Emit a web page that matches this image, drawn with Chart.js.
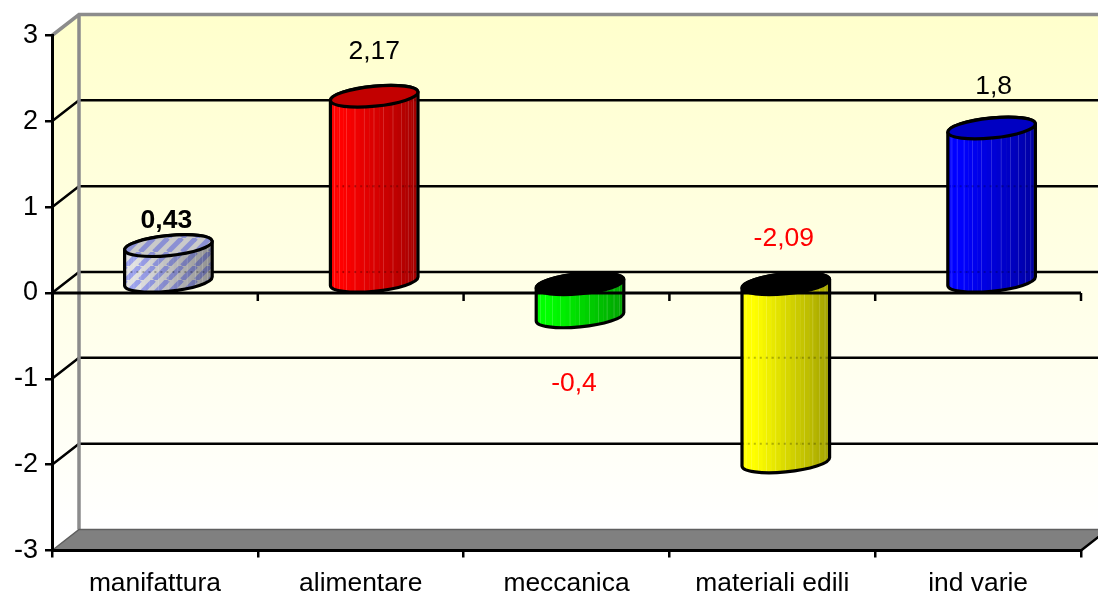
<!DOCTYPE html>
<html>
<head>
<meta charset="utf-8">
<style>
  html, body { margin: 0; padding: 0; background: #fff; }
  canvas { display: block; }
</style>
<script src="https://cdn.jsdelivr.net/npm/chart.js@4"></script>
</head>
<body>
<canvas id="chart" width="1098" height="592"></canvas>
<script>
const categories = ['manifattura', 'alimentare', 'meccanica', 'materiali edili', 'ind varie'];
const values = [0.43, 2.17, -0.4, -2.09, 1.8];
const barColors = ['#b4b8e8', '#ff0000', '#00ff00', '#ffff00', '#0000ff'];
const yTicks = [3, 2, 1, 0, -1, -2, -3];

// label placement, in px from the value end of each cylinder
const labelOffsets = [
  { dx: -2, dy: -25 }, { dx: 0, dy: -45 }, { dx: -6, dy: 67 }, { dx: -2, dy: -223 }, { dx: 2, dy: -41 }
];

// 3d box depth in px
const DX = 27, DY = -21;
const FONT = '"Liberation Sans", Arial, sans-serif';

function shade(hex, f) {
  const n = parseInt(hex.slice(1), 16);
  const c = [n >> 16, (n >> 8) & 255, n & 255].map(v => Math.round(v * f));
  return `rgb(${c[0]},${c[1]},${c[2]})`;
}

// diagonal stripes for the first bar
function hatch(ctx, f) {
  const p = document.createElement('canvas');
  p.width = p.height = 14;
  const c = p.getContext('2d');
  c.fillStyle = shade('#ffffff', f * 0.88);
  c.fillRect(0, 0, 14, 14);
  c.strokeStyle = shade('#9aa0ec', f);
  c.lineWidth = 5;
  for (let i = -14; i <= 28; i += 14) {
    c.beginPath();
    c.moveTo(i, 14);
    c.lineTo(i + 14, 0);
    c.stroke();
  }
  return ctx.createPattern(p, 'repeat');
}

const walls = {
  id: 'walls',
  beforeDraw(chart) {
    const { ctx, scales: { x, y } } = chart;
    const left = x.left, right = x.right;
    const top = y.getPixelForValue(3), bottom = y.getPixelForValue(-3);
    ctx.save();

    const g = ctx.createLinearGradient(0, top + DY, 0, bottom + DY);
    g.addColorStop(0, '#ffffcc');
    g.addColorStop(1, '#ffffff');
    ctx.fillStyle = g;
    ctx.fillRect(left + DX, top + DY, right - left, bottom - top);

    // side wall
    ctx.beginPath();
    ctx.moveTo(left, top);
    ctx.lineTo(left + DX, top + DY);
    ctx.lineTo(left + DX, bottom + DY);
    ctx.lineTo(left, bottom);
    ctx.closePath();
    ctx.fill();

    // floor
    ctx.beginPath();
    ctx.moveTo(left, bottom);
    ctx.lineTo(left + DX, bottom + DY);
    ctx.lineTo(right + DX, bottom + DY);
    ctx.lineTo(right, bottom);
    ctx.closePath();
    ctx.fillStyle = '#808080';
    ctx.fill();

    // grid lines
    ctx.strokeStyle = '#000';
    ctx.lineWidth = 2.5;
    yTicks.slice(1, -1).forEach(v => {
      const py = y.getPixelForValue(v);
      ctx.beginPath();
      ctx.moveTo(left, py);
      ctx.lineTo(left + DX, py + DY);
      ctx.lineTo(right + DX, py + DY);
      ctx.stroke();
    });

    // box edges
    ctx.strokeStyle = '#8c8c8c';
    ctx.lineWidth = 3.5;
    ctx.beginPath();
    ctx.moveTo(left, top);
    ctx.lineTo(left + DX, top + DY);
    ctx.lineTo(right + DX, top + DY);
    ctx.moveTo(left + DX, top + DY);
    ctx.lineTo(left + DX, bottom + DY);
    ctx.stroke();
    ctx.strokeStyle = '#5f5f5f';
    ctx.lineWidth = 1.5;
    ctx.beginPath();
    ctx.moveTo(left, bottom);
    ctx.lineTo(left + DX, bottom + DY);
    ctx.lineTo(right + DX, bottom + DY);
    ctx.stroke();
    ctx.restore();
  }
};

function drawCylinder(ctx, el, i, yScale) {
  const cx = el.x + DX / 2, rx = el.width / 2, ry = 10, rot = -0.1;
  const yVal = el.y + DY / 2, yBase = el.base + DY / 2;
  const high = Math.min(yVal, yBase), low = Math.max(yVal, yBase);
  const color = barColors[i];
  const t0 = Math.atan2(-ry * Math.sin(rot), rx * Math.cos(rot));
  const ex = rx * Math.cos(t0) * Math.cos(rot) - ry * Math.sin(t0) * Math.sin(rot);
  const ey = rx * Math.cos(t0) * Math.sin(rot) + ry * Math.sin(t0) * Math.cos(rot);

  const body = new Path2D();
  body.moveTo(cx - ex, high - ey);
  body.lineTo(cx - ex, low - ey);
  body.ellipse(cx, low, rx, ry, rot, t0 + Math.PI, t0, true);
  body.lineTo(cx + ex, high + ey);
  body.ellipse(cx, high, rx, ry, rot, t0, t0 + Math.PI, true);
  body.closePath();

  ctx.save();
  ctx.save();
  ctx.clip(body);
  const facets = 28;
  for (let f = 0; f < facets; f++) {
    const x0 = cx - ex * Math.cos(f * Math.PI / facets);
    const x1 = cx - ex * Math.cos((f + 1) * Math.PI / facets);
    const pos = (x0 - (cx - ex)) / (2 * ex);
    const k = pos < 0.12 ? 1 : 1 - (pos - 0.12) * 0.42;
    ctx.fillStyle = i === 0 ? hatch(ctx, k) : shade(color, k);
    ctx.fillRect(x0, high - ry - 4, x1 - x0 + 0.5, low - high + 2 * ry + 8);
    if (f % 2 === 1) {
      ctx.fillStyle = 'rgba(255,255,255,0.3)';
      ctx.fillRect(x1 - 0.5, high - ry - 4, 1, low - high + 2 * ry + 8);
    }
  }
  // back grid lines glimmer through the facets
  ctx.strokeStyle = 'rgba(0,0,0,0.25)';
  ctx.lineWidth = 2;
  ctx.setLineDash([2, 4]);
  yTicks.slice(1, -1).forEach(v => {
    const py = yScale.getPixelForValue(v) + DY;
    ctx.beginPath();
    ctx.moveTo(cx - rx, py);
    ctx.lineTo(cx + rx, py);
    ctx.stroke();
  });
  ctx.restore();

  ctx.lineWidth = 3.2;
  ctx.strokeStyle = '#000';
  ctx.stroke(body);

  // end cap, black when we look into a negative bar
  ctx.beginPath();
  ctx.ellipse(cx, high, rx, ry, rot, 0, Math.PI * 2);
  if (values[i] < 0) ctx.fillStyle = '#000';
  else if (i === 0) ctx.fillStyle = hatch(ctx, 0.9);
  else ctx.fillStyle = shade(color, 0.76);
  ctx.fill();
  ctx.stroke();
  ctx.restore();
}

const cylinders = {
  id: 'cylinders',
  afterDatasetsDraw(chart) {
    const { ctx, scales: { x, y } } = chart;
    const meta = chart.getDatasetMeta(0);
    meta.data.forEach((el, i) => drawCylinder(ctx, el, i, y));

    // zero axis sits in front of the bars
    const zero = y.getPixelForValue(0);
    ctx.save();
    ctx.strokeStyle = '#000';
    ctx.lineWidth = 3;
    ctx.beginPath();
    ctx.moveTo(x.left, zero);
    ctx.lineTo(x.right, zero);
    ctx.stroke();
    ctx.lineWidth = 2.5;
    ctx.beginPath();
    const step = (x.right - x.left) / categories.length;
    for (let k = 1; k <= categories.length; k++) {
      ctx.moveTo(x.left + step * k, zero);
      ctx.lineTo(x.left + step * k, zero + 8);
    }
    // right end of the floor
    const bottom = y.getPixelForValue(-3);
    ctx.moveTo(x.right, bottom);
    ctx.lineTo(x.right + DX, bottom + DY);
    ctx.stroke();

    // data labels
    ctx.textAlign = 'center';
    ctx.textBaseline = 'middle';
    meta.data.forEach((el, i) => {
      const o = labelOffsets[i];
      ctx.font = `${i === 0 ? 'bold ' : ''}26.5px ${FONT}`;
      ctx.fillStyle = values[i] < 0 ? '#ff0000' : '#000';
      ctx.fillText(String(values[i]).replace('.', ','), el.x + DX / 2 + o.dx, el.y + DY / 2 + o.dy);
    });
    ctx.restore();
  }
};

new Chart(document.getElementById('chart'), {
  type: 'bar',
  data: {
    labels: categories,
    datasets: [{
      data: values,
      backgroundColor: 'transparent',
      borderWidth: 0,
      barPercentage: 1,
      categoryPercentage: 0.4276
    }]
  },
  plugins: [walls, cylinders],
  options: {
    responsive: false,
    animation: false,
    layout: { padding: { top: 35.5, right: 17, left: 0, bottom: 0 } },
    plugins: { legend: { display: false }, tooltip: { enabled: false } },
    scales: {
      x: {
        afterFit(scale) { scale.height = 41.5; },
        grid: { drawOnChartArea: false, offset: true, color: '#000', lineWidth: 2.5, tickLength: 7 },
        border: { color: '#000', width: 3 },
        ticks: { color: '#000', font: { family: FONT, size: 26.4 }, padding: 10, maxRotation: 0, autoSkip: false }
      },
      y: {
        min: -3,
        max: 3,
        afterFit(scale) { scale.width = 52; },
        afterBuildTicks(scale) { scale.ticks = yTicks.map(v => ({ value: v })); },
        grid: { drawOnChartArea: false, color: '#000', lineWidth: 2.5, tickLength: 7 },
        border: { color: '#000', width: 3 },
        ticks: { color: '#000', font: { family: FONT, size: 27 }, padding: 7 }
      }
    }
  }
});
</script>
</body>
</html>
